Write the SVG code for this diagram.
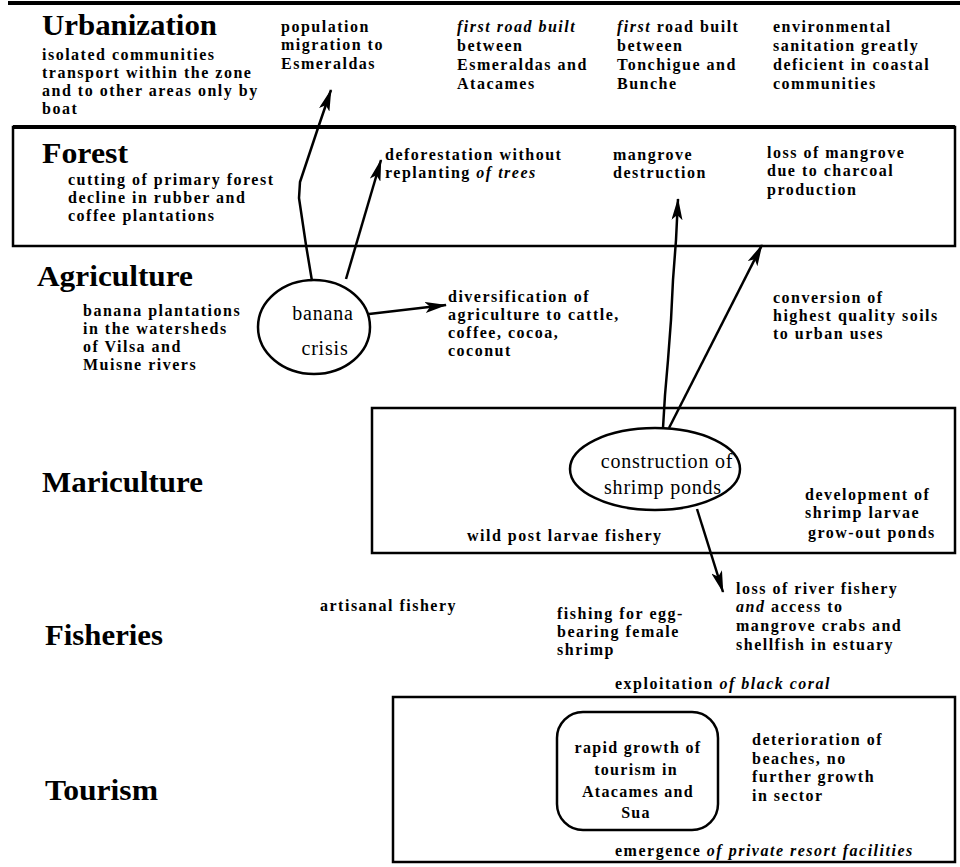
<svg xmlns="http://www.w3.org/2000/svg" width="960" height="867" viewBox="0 0 960 867">
<style>
  .t { font-family: "Liberation Serif", "Times New Roman", serif; font-weight: bold; font-size: 16px; letter-spacing: 1.5px; fill: #000; }
  .h { font-family: "Liberation Serif", "Times New Roman", serif; font-weight: bold; font-size: 30px; fill: #000; }
  .n { font-family: "Liberation Serif", "Times New Roman", serif; font-weight: normal; font-size: 20px; letter-spacing: 0.8px; fill: #000; text-anchor: middle; }
  .c { font-family: "Liberation Serif", "Times New Roman", serif; font-weight: bold; font-size: 16px; letter-spacing: 1.3px; fill: #000; text-anchor: middle; }
  .i { font-style: italic; }
  .box { fill: none; stroke: #000; stroke-width: 2.5; }
  .shape { fill: #fff; stroke: #000; stroke-width: 2.5; }
  .edge { fill: none; stroke: #000; stroke-width: 2.5; stroke-linejoin: round; marker-end: url(#ah); }
</style>
<defs>
  <marker id="ah" markerWidth="22" markerHeight="11" refX="21" refY="5.5" orient="auto" markerUnits="userSpaceOnUse">
    <path d="M0,0 L22,5.5 L0,11 L5,5.5 Z" fill="#000"/>
  </marker>
</defs>
<rect width="960" height="867" fill="#fff"/>

<!-- section frames -->
<g id="frames">
  <line x1="8" y1="3" x2="960" y2="3" stroke="#000" stroke-width="4"/>
  <rect class="box" x="13" y="127" width="942" height="119"/>
  <line x1="13" y1="127" x2="955" y2="127" stroke="#000" stroke-width="4"/>
  <rect class="box" x="372" y="408" width="583" height="145"/>
  <rect class="box" x="393" y="697" width="562" height="165"/>
</g>

<!-- Urbanization -->
<g id="urbanization">
  <text class="h" x="42" y="35" textLength="175" lengthAdjust="spacingAndGlyphs">Urbanization</text>
  <text class="t" x="42" y="60">isolated communities</text>
  <text class="t" x="42" y="78">transport within the zone</text>
  <text class="t" x="42" y="96">and to other areas only by</text>
  <text class="t" x="42" y="114">boat</text>
</g>
<g id="population-migration">
  <text class="t" x="281" y="32">population</text>
  <text class="t" x="281" y="50">migration to</text>
  <text class="t" x="281" y="69">Esmeraldas</text>
</g>
<g id="road-esmeraldas">
  <text class="t i" x="457" y="32">first road built</text>
  <text class="t" x="457" y="51">between</text>
  <text class="t" x="457" y="70">Esmeraldas and</text>
  <text class="t" x="457" y="89">Atacames</text>
</g>
<g id="road-tonchigue">
  <text class="t" x="617" y="32"><tspan class="i">first</tspan> road built</text>
  <text class="t" x="617" y="51">between</text>
  <text class="t" x="617" y="70">Tonchigue and</text>
  <text class="t" x="617" y="89">Bunche</text>
</g>
<g id="sanitation">
  <text class="t" x="773" y="32">environmental</text>
  <text class="t" x="773" y="51">sanitation greatly</text>
  <text class="t" x="773" y="70">deficient in coastal</text>
  <text class="t" x="773" y="89">communities</text>
</g>

<!-- Forest -->
<g id="forest">
  <text class="h" x="42" y="163" textLength="86" lengthAdjust="spacingAndGlyphs">Forest</text>
  <text class="t" x="68" y="185">cutting of primary forest</text>
  <text class="t" x="68" y="203">decline in rubber and</text>
  <text class="t" x="68" y="221">coffee plantations</text>
</g>
<g id="deforestation">
  <text class="t" x="385" y="160">deforestation without</text>
  <text class="t" x="385" y="178">replanting <tspan class="i">of trees</tspan></text>
</g>
<g id="mangrove-destruction">
  <text class="t" x="613" y="160">mangrove</text>
  <text class="t" x="613" y="178">destruction</text>
</g>
<g id="mangrove-charcoal">
  <text class="t" x="767" y="158">loss of mangrove</text>
  <text class="t" x="767" y="176">due to charcoal</text>
  <text class="t" x="767" y="195">production</text>
</g>

<!-- Agriculture -->
<g id="agriculture">
  <text class="h" x="37" y="286" textLength="156" lengthAdjust="spacingAndGlyphs">Agriculture</text>
  <text class="t" x="83" y="316">banana plantations</text>
  <text class="t" x="83" y="334">in the watersheds</text>
  <text class="t" x="83" y="352">of Vilsa and</text>
  <text class="t" x="83" y="370">Muisne rivers</text>
</g>
<g id="banana-crisis">
  <ellipse class="shape" cx="314" cy="327" rx="56" ry="47"/>
  <text class="n" x="323" y="320">banana</text>
  <text class="n" x="325" y="355">crisis</text>
</g>
<g id="diversification">
  <text class="t" x="448" y="302">diversification of</text>
  <text class="t" x="448" y="320">agriculture to cattle,</text>
  <text class="t" x="448" y="338">coffee, cocoa,</text>
  <text class="t" x="448" y="356">coconut</text>
</g>
<g id="soil-conversion">
  <text class="t" x="773" y="303">conversion of</text>
  <text class="t" x="773" y="321">highest quality soils</text>
  <text class="t" x="773" y="339">to urban uses</text>
</g>

<!-- Mariculture -->
<g id="mariculture">
  <text class="h" x="42" y="492" textLength="161" lengthAdjust="spacingAndGlyphs">Mariculture</text>
</g>
<g id="shrimp-ponds">
  <ellipse class="shape" cx="655" cy="469" rx="85" ry="41"/>
  <text class="n" x="667" y="468">construction of</text>
  <text class="n" x="663" y="494">shrimp ponds</text>
</g>
<g id="larvae-ponds">
  <text class="t" x="805" y="500">development of</text>
  <text class="t" x="805" y="518">shrimp larvae</text>
  <text class="t" x="808" y="538">grow-out ponds</text>
</g>
<g id="post-larvae">
  <text class="t" x="467" y="541">wild post larvae fishery</text>
</g>

<!-- Fisheries -->
<g id="fisheries">
  <text class="h" x="45" y="645" textLength="118" lengthAdjust="spacingAndGlyphs">Fisheries</text>
</g>
<g id="artisanal">
  <text class="t" x="320" y="611">artisanal fishery</text>
</g>
<g id="egg-bearing">
  <text class="t" x="557" y="619">fishing for egg-</text>
  <text class="t" x="557" y="637">bearing female</text>
  <text class="t" x="557" y="655">shrimp</text>
</g>
<g id="river-fishery">
  <text class="t" x="736" y="594">loss of river fishery</text>
  <text class="t" x="736" y="612"><tspan class="i">and</tspan> access to</text>
  <text class="t" x="736" y="631">mangrove crabs and</text>
  <text class="t" x="736" y="650">shellfish in estuary</text>
</g>
<g id="black-coral">
  <text class="t" x="615" y="689">exploitation <tspan class="i">of black coral</tspan></text>
</g>

<!-- Tourism -->
<g id="tourism">
  <text class="h" x="45" y="800" textLength="113" lengthAdjust="spacingAndGlyphs">Tourism</text>
</g>
<g id="tourism-growth">
  <rect class="shape" x="557" y="712" width="161" height="118" rx="26" ry="26"/>
  <text class="c" x="638" y="753">rapid growth of</text>
  <text class="c" x="636" y="775">tourism in</text>
  <text class="c" x="638" y="797">Atacames and</text>
  <text class="c" x="636" y="818">Sua</text>
</g>
<g id="beach-deterioration">
  <text class="t" x="752" y="745">deterioration of</text>
  <text class="t" x="752" y="764">beaches, no</text>
  <text class="t" x="752" y="782">further growth</text>
  <text class="t" x="752" y="801">in sector</text>
</g>
<g id="resorts">
  <text class="t" x="615" y="856">emergence <tspan class="i">of private resort facilities</tspan></text>
</g>

<!-- connectors -->
<g id="connectors">
  <path class="edge" d="M312,281 L306,245 L299,198 L300,182 L318,128 L331,90"/>
  <path class="edge" d="M346,279 L381,160"/>
  <path class="edge" d="M369,314 L446,305"/>
  <path class="edge" d="M663,428 L665,395 L668,360 L671,320 L673,280 L676,240 L678,199"/>
  <path class="edge" d="M669,428 L762,245"/>
  <path class="edge" d="M697,509 L723,592"/>
</g>
</svg>
